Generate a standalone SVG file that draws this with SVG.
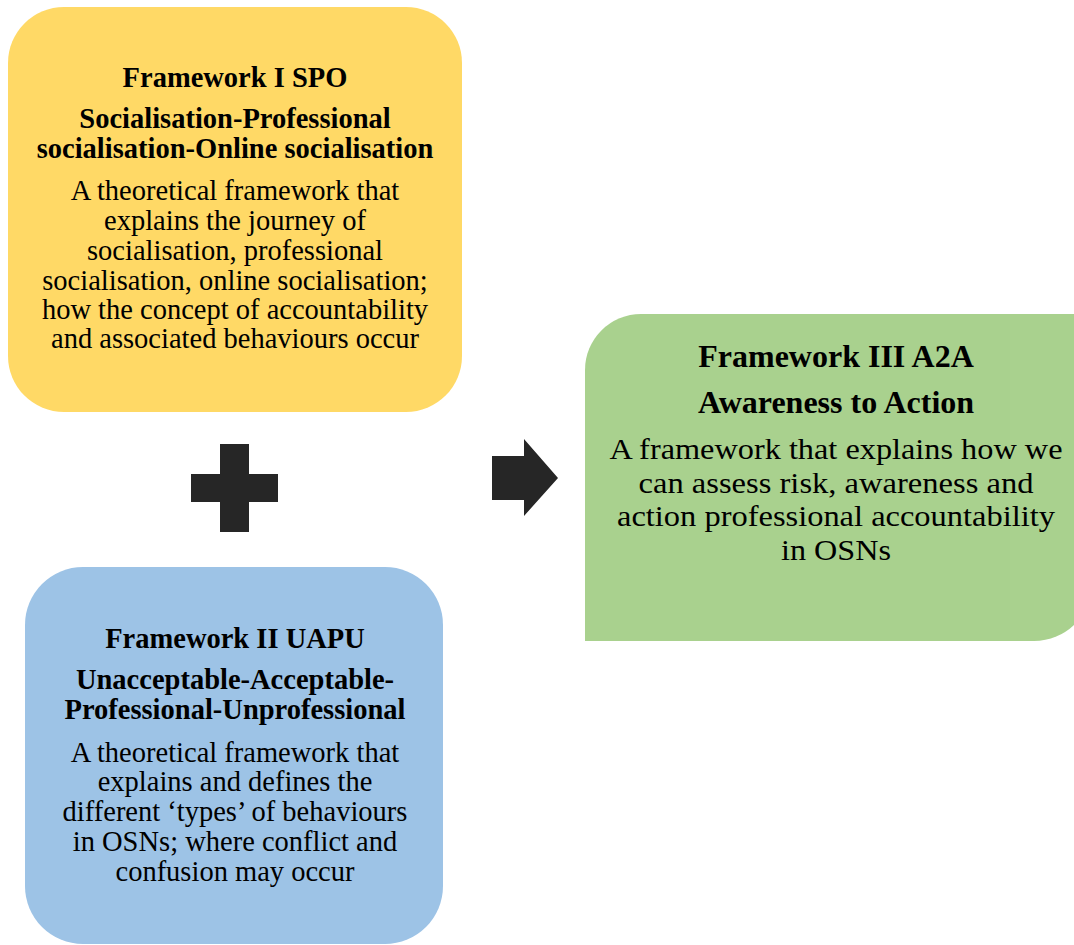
<svg xmlns="http://www.w3.org/2000/svg" width="1074" height="945" viewBox="0 0 1074 945">
  <style>
    .t { font-family: "Liberation Serif", "Times New Roman", serif; fill: #000; text-anchor: middle; }
    .h { font-weight: bold; }
    .s { font-size: 28.5px; }
    .g { font-size: 32px; }
    .gb { font-size: 29.5px; }
    .sym { fill: #262626; }
  </style>
  <rect width="1074" height="945" fill="#ffffff"/>

  <!-- Framework I -->
  <g id="framework-1">
    <rect x="8" y="7" width="454" height="405" rx="56" ry="56" fill="#FFD966"/>
    <text class="t h s" x="235" y="87">Framework I SPO</text>
    <text class="t h s" x="235" y="128">Socialisation-Professional</text>
    <text class="t h s" x="235" y="158">socialisation-Online socialisation</text>
    <text class="t s" x="235" y="200">A theoretical framework that</text>
    <text class="t s" x="235" y="230">explains the journey of</text>
    <text class="t s" x="235" y="260">socialisation, professional</text>
    <text class="t s" x="235" y="290">socialisation, online socialisation;</text>
    <text class="t s" x="235" y="319">how the concept of accountability</text>
    <text class="t s" x="235" y="348">and associated behaviours occur</text>
  </g>

  <!-- Framework II -->
  <g id="framework-2">
    <rect x="25" y="567" width="418" height="377" rx="58" ry="58" fill="#9DC3E6"/>
    <text class="t h s" x="235" y="648">Framework II UAPU</text>
    <text class="t h s" x="235" y="689">Unacceptable-Acceptable-</text>
    <text class="t h s" x="235" y="719">Professional-Unprofessional</text>
    <text class="t s" x="235" y="762">A theoretical framework that</text>
    <text class="t s" x="235" y="791">explains and defines the</text>
    <text class="t s" x="235" y="821">different ‘types’ of behaviours</text>
    <text class="t s" x="235" y="851">in OSNs; where conflict and</text>
    <text class="t s" x="235" y="881">confusion may occur</text>
  </g>

  <!-- Framework III: rounded top-left and bottom-right corners -->
  <g id="framework-3">
    <path d="M585,641 V370 A56,56 0 0 1 641,314 H1092 V583 A58,58 0 0 1 1034,641 Z" fill="#A9D18E"/>
    <text class="t h g" x="836" y="367">Framework III A2A</text>
    <text class="t h g" x="836" y="413">Awareness to Action</text>
    <text class="t gb" x="836" y="459" textLength="453" lengthAdjust="spacingAndGlyphs">A framework that explains how we</text>
    <text class="t gb" x="836" y="492.5" textLength="395" lengthAdjust="spacingAndGlyphs">can assess risk, awareness and</text>
    <text class="t gb" x="836" y="526" textLength="438" lengthAdjust="spacingAndGlyphs">action professional accountability</text>
    <text class="t gb" x="836" y="559.5" textLength="110" lengthAdjust="spacingAndGlyphs">in OSNs</text>
  </g>

  <!-- Connectors: plus and arrow symbols -->
  <g id="connectors">
    <path class="sym" d="M220,444 H249 V474 H278 V502 H249 V532 H220 V502 H191 V474 H220 Z"/>
    <path class="sym" d="M492,456 H524 V439 L558,478 L524,516 V500 H492 Z"/>
  </g>
</svg>
